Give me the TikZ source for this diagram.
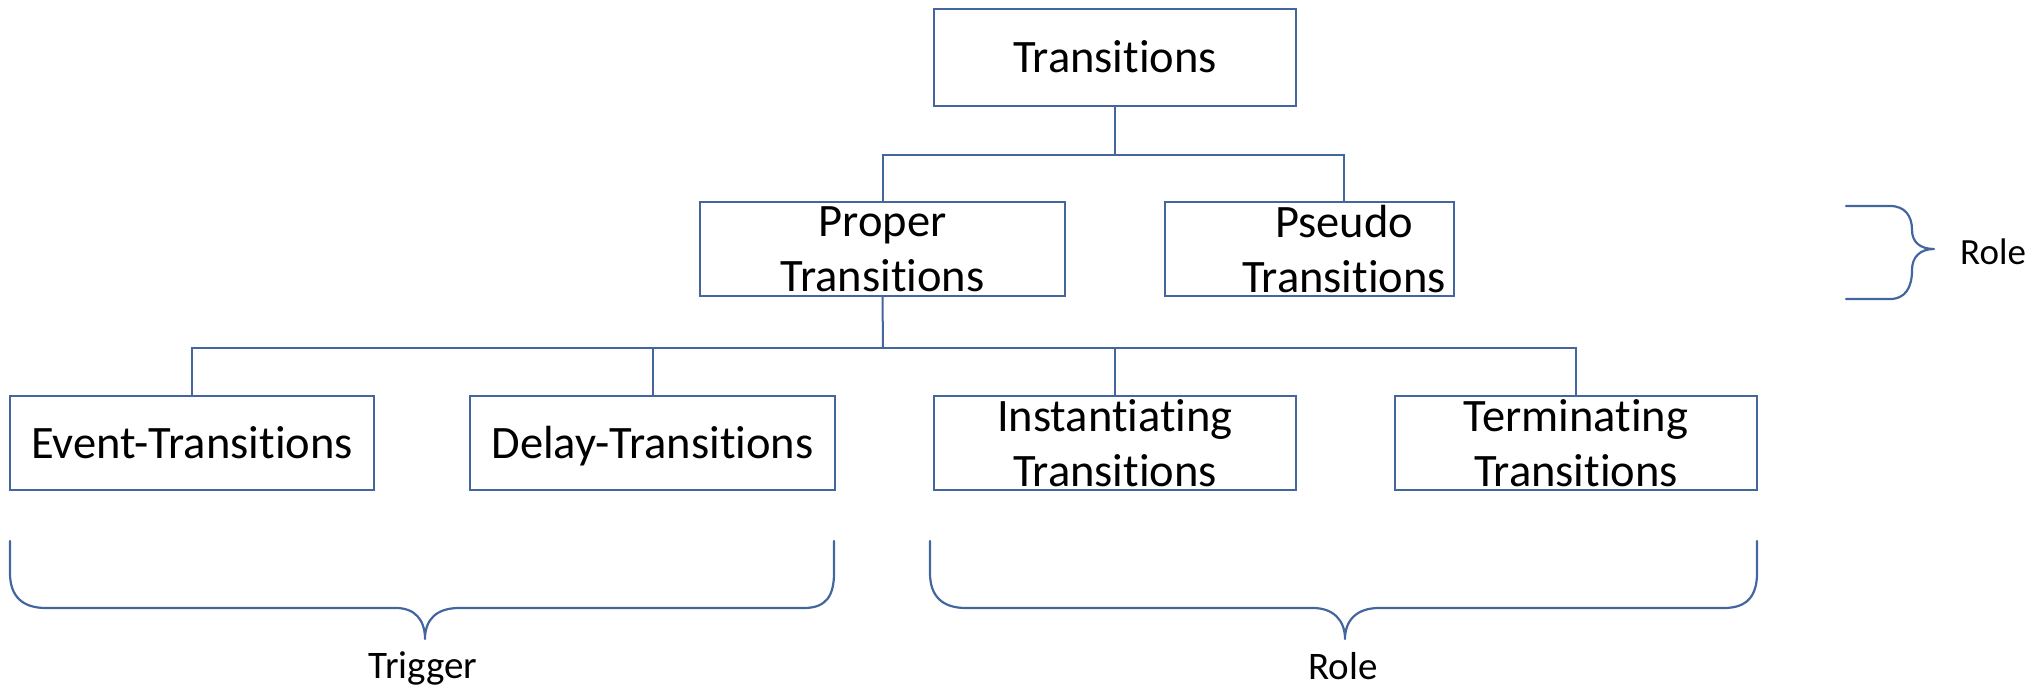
\documentclass[tikz,border=0pt]{standalone}
\usepackage{fontspec}
\setmainfont{Carlito}[Ligatures={NoCommon,NoContextual,NoRequired}]
\definecolor{linecol}{RGB}{68,102,158}
\begin{document}
\begin{tikzpicture}[x=1pt,y=-1pt,
  box/.style={draw=linecol, line width=2pt, rectangle, inner sep=0pt,
              align=center, font=\fontsize{46.5}{55}\selectfont},
  oneline/.style={text height=30pt, text depth=0pt},
  plain/.style={inner sep=0pt, align=center, font=\fontsize{46.5}{55}\selectfont},
  link/.style={draw=linecol, line width=2pt},
  brace/.style={draw=linecol, line width=2.2pt, line join=round, line cap=round},
  lbl/.style={font=\fontsize{39}{46}\selectfont, inner sep=0pt}]
\useasboundingbox (0,0) rectangle (2039,688);

% boxes of the hierarchy
\node[box, oneline, minimum width=362pt, minimum height=97pt] (T) at (1115,57.5) {Transitions};
\node[box, minimum width=365pt, minimum height=94pt] (P) at (882.5,249) {Proper\\Transitions};
\node[box, minimum width=289pt, minimum height=94pt] (S) at (1309.5,249) {};
\node[plain] (Stxt) at (1344,249) {Pseudo\\Transitions};

\node[box, oneline, minimum width=364pt, minimum height=94pt] (E) at (192,443) {Event-Transitions};
\node[box, oneline, minimum width=365pt, minimum height=94pt] (D) at (652.5,443) {Delay-Transitions};
\node[box, minimum width=362pt, minimum height=94pt] (I) at (1115,443) {Instantiating\\Transitions};
\node[box, minimum width=362pt, minimum height=94pt] (M) at (1576,443) {Terminating\\Transitions};

% connectors
\coordinate (bus1) at (1115,155);
\coordinate (bus2) at (883,348);
\draw[link] (T.south) -- (bus1);
\draw[link] (P.north) |- (bus1) -| (Stxt |- S.north);
\draw[link] (P.south) -- (bus2);
\draw[link] (E.north) |- (bus2);
\draw[link] (D.north) |- (bus2);
\draw[link] (I.north) |- (bus2);
\draw[link] (M.north) |- (bus2);

% braces
\draw[brace] (10,541) -- (10,573) .. controls (10,596) and (22,608) .. (46,608)
  -- (396,608) .. controls (415,608) and (425,620) .. (425,639)
  .. controls (425,620) and (436,608) .. (459,608)
  -- (804,608) .. controls (826,608) and (834,596) .. (834,573) -- (834,541);
\draw[brace] (930,541) -- (930,573) .. controls (930,596) and (942,608) .. (966,608)
  -- (1313,608) .. controls (1333,608) and (1345,620) .. (1345,639)
  .. controls (1345,620) and (1357,608) .. (1379,608)
  -- (1724,608) .. controls (1747,608) and (1757,596) .. (1757,573) -- (1757,541);
\draw[brace] (1846,206) -- (1890,206) .. controls (1905,206) and (1912,216) .. (1912,230)
  .. controls (1912,242) and (1920,249) .. (1934,249)
  .. controls (1920,249) and (1912,257) .. (1912,270)
  .. controls (1912,288) and (1905,299) .. (1890,299) -- (1846,299);

% brace labels
\node[lbl, anchor=base] (trig) at (423,678) {Trigger};
\node[lbl, anchor=base] (roleB) at (1343,679) {Role};
\node[lbl, anchor=base west, font=\fontsize{37}{44}\selectfont] (roleR) at (1960,264) {Role};
\end{tikzpicture}
\end{document}
